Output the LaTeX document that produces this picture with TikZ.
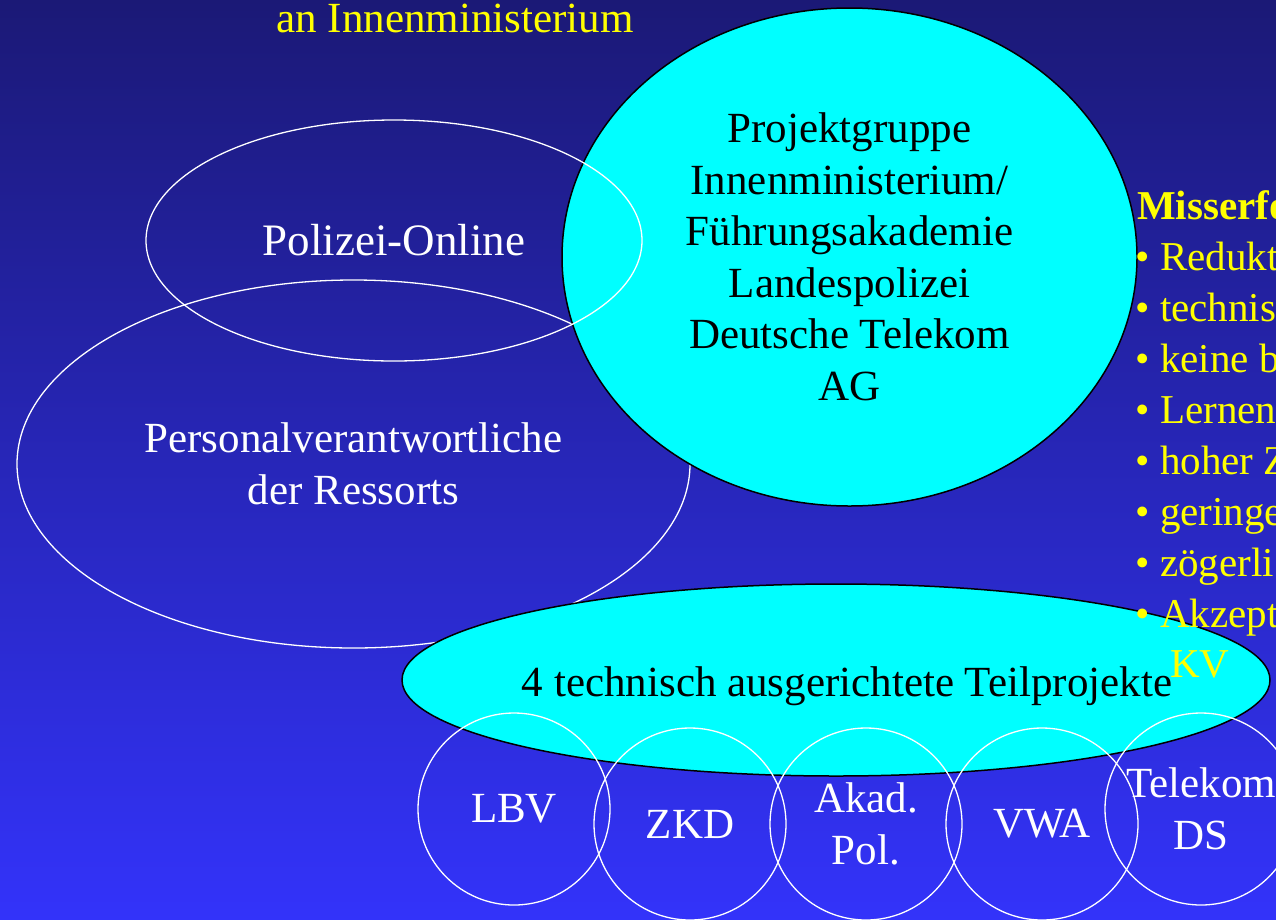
\documentclass[tikz,border=0pt]{standalone}
\usepackage{fontspec}
\setmainfont{Liberation Serif}
\usetikzlibrary{shapes.geometric}
\definecolor{bgtop}{RGB}{27,25,118}
\definecolor{bgbot}{RGB}{51,51,250}
\definecolor{cyanfill}{RGB}{0,255,255}
\definecolor{yel}{RGB}{255,255,0}
\begin{document}
\begin{tikzpicture}[x=1pt,y=-1pt,
  bigfont/.style={font=\fontsize{43}{51.5}\selectfont},
  whiteell/.style={ellipse, draw=white, line width=1.3pt, inner sep=0pt, text=white, align=center, bigfont},
  cyanell/.style={ellipse, draw=black, line width=1.5pt, fill=cyanfill, inner sep=0pt, text=black, align=center, bigfont},
  subcirc/.style={circle, draw=white, line width=1.3pt, inner sep=0pt, minimum size=192pt, text=white, align=center, bigfont},
  mis/.style={anchor=base west, text=yel, inner sep=0pt, font=\fontsize{41}{51}\selectfont},
]
\useasboundingbox (0,0) rectangle (1276,919);
\clip (0,0) rectangle (1276,919);
\shade[top color=bgtop, bottom color=bgbot] (0,0) rectangle (1276,919);

\node[whiteell, minimum width=673pt, minimum height=368pt] (pers) at (353.5,464) {Personalverantwortliche\\der Ressorts};
\node[cyanell, minimum width=575pt, minimum height=498pt] (proj) at (849.5,257) {Projektgruppe\\Innenministerium/\\Führungsakademie\\Landespolizei\\Deutsche Telekom\\AG};
\node[whiteell, minimum width=496pt, minimum height=241pt, font=\fontsize{45}{51.5}\selectfont] (poli) at (394,240.5) {Polizei-Online};
\node[cyanell, minimum width=868pt, minimum height=192pt] (teil) at (836,680) {};
\node[text=black, inner sep=0pt, text depth=0pt, bigfont] (teiltxt) at (847,682) {4 technisch ausgerichtete Teilprojekte};

\node[subcirc] (lbv) at (514,809) {LBV};
\node[subcirc] (zkd) at (690,824) {ZKD};
\node[subcirc] (akad) at (866,824) {Akad.\\Pol.};
\node[subcirc] (vwa) at (1042,824) {VWA};
\node[subcirc] (tel) at (1201,809) {Telekom\\DS};

\node[anchor=base, text=yel, inner sep=0pt, bigfont] (title) at (455,32) {an Innenministerium};

\node[mis] (m0) at (1137,219) {\textbf{Misserfo}};
\node[mis] (m1) at (1135,270) {\makebox[25pt][l]{\textbullet}Redukt};
\node[mis] (m2) at (1135,321) {\makebox[25pt][l]{\textbullet}technis};
\node[mis] (m3) at (1135,372) {\makebox[25pt][l]{\textbullet}keine b};
\node[mis] (m4) at (1135,423) {\makebox[25pt][l]{\textbullet}Lernen};
\node[mis] (m5) at (1135,474) {\makebox[25pt][l]{\textbullet}hoher Z};
\node[mis] (m6) at (1135,525) {\makebox[25pt][l]{\textbullet}geringe};
\node[mis] (m7) at (1135,576) {\makebox[25pt][l]{\textbullet}zögerli};
\node[mis] (m8) at (1135,627) {\makebox[25pt][l]{\textbullet}Akzept};
\node[mis] (m9) at (1170,677) {KV};
\end{tikzpicture}
\end{document}
